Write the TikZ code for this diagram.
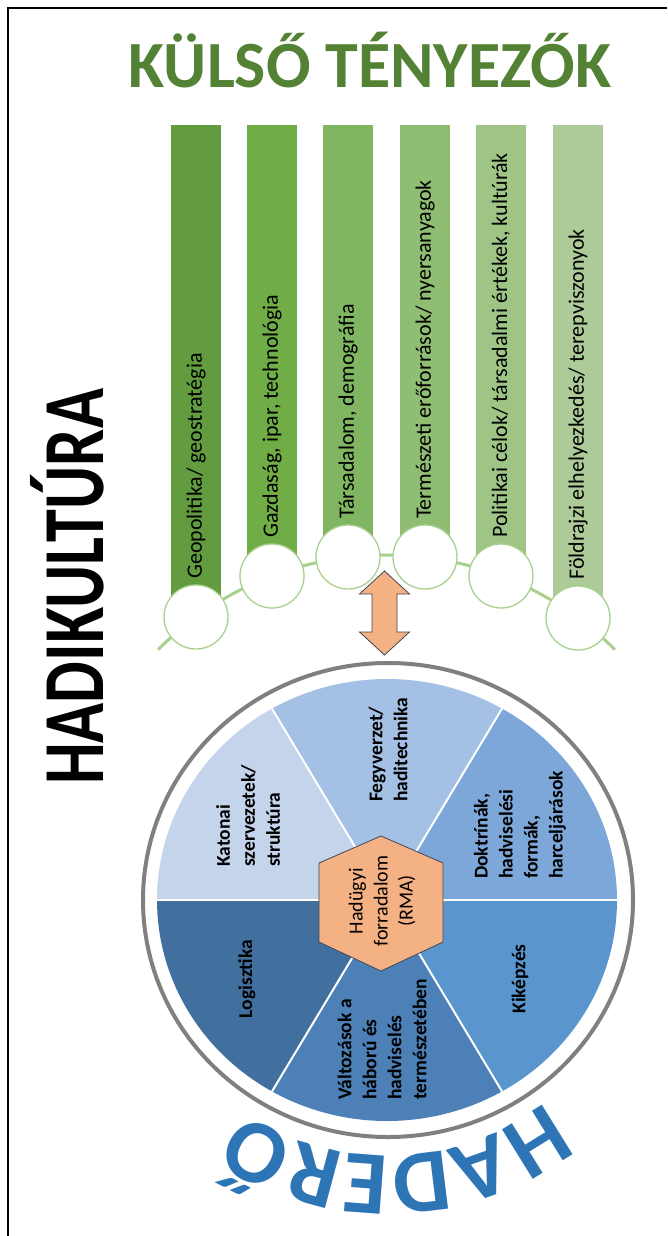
\documentclass[tikz,border=0pt]{standalone}
\usepackage{fontspec}
\setmainfont{Carlito}
\usetikzlibrary{decorations.text}
\definecolor{titlegreen}{HTML}{548235}
\definecolor{ga}{HTML}{629C3F}
\definecolor{gb}{HTML}{70AD47}
\definecolor{gc}{HTML}{80B661}
\definecolor{gd}{HTML}{8FBE73}
\definecolor{ge}{HTML}{9EC586}
\definecolor{gf}{HTML}{ACCB98}
\definecolor{chaingreen}{HTML}{A9D18E}
\definecolor{pa}{HTML}{7DA7D9}
\definecolor{pb}{HTML}{A4C0E4}
\definecolor{pc}{HTML}{C4D4EB}
\definecolor{pd}{HTML}{41709F}
\definecolor{pe}{HTML}{4C80B6}
\definecolor{pf}{HTML}{5B95CE}
\definecolor{hexfill}{HTML}{F4B183}
\definecolor{hexline}{HTML}{404858}
\definecolor{ringgray}{HTML}{808080}
\definecolor{haderoblue}{HTML}{2E75B6}
\tikzset{
  bartext/.style={rotate=90, anchor=west, inner sep=0pt, font=\fontsize{22}{26}\selectfont},
  chaincircle/.style={circle, draw=chaingreen, fill=white, line width=1.3pt, minimum size=64pt, inner sep=0pt},
  sectortext/.style={rotate=90, inner sep=0pt, align=left, font=\fontsize{19.5}{25}\selectfont\bfseries},
}
\begin{document}
\begin{tikzpicture}[x=1pt,y=1pt]
\useasboundingbox (0,0) rectangle (667,-1236);
\fill[white] (0,0) rectangle (667,-1236);
% frame
\draw[line width=2pt, black] (8,-1236) -- (8,-8) -- (667,-8);
% title
\node[font=\fontsize{66}{66}\selectfont\bfseries, text=titlegreen, anchor=base, inner sep=0pt] (title) at (370,-88) {KÜLSŐ TÉNYEZŐK};
% side title
\node[rotate=90, anchor=base west, inner sep=0pt, font=\fontsize{87}{87}\selectfont\bfseries] (hk) at (103,-785) {\scalebox{0.76}[1]{HADIKULTÚRA}};
% chain arc
\coordinate (arcC) at (386.5,-878);
\coordinate (arcL) at ([shift={(135:323)}]arcC);
\draw[chaingreen, line width=3pt] (arcL) arc[start angle=135, end angle=45, radius=323];
% bars
\fill[ga] (171,-125) rectangle (221,-617);
\fill[gb] (247,-125) rectangle (297,-576);
\fill[gc] (323,-125) rectangle (373,-557);
\fill[gd] (400,-125) rectangle (450,-557);
\fill[ge] (476,-125) rectangle (526,-576);
\fill[gf] (553,-125) rectangle (603,-618);
% circles
\node[chaincircle] (c1) at (196,-617) {};
\node[chaincircle] (c2) at (272,-576) {};
\node[chaincircle] (c3) at (348,-557) {};
\node[chaincircle] (c4) at (425,-557) {};
\node[chaincircle] (c5) at (501,-576) {};
\node[chaincircle] (c6) at (578,-618) {};
% bar texts
\node[bartext] (t1) at (196,-579) {Geopolitika/ geostratégia};
\node[bartext] (t2) at (272,-538) {Gazdaság, ipar, technológia};
\node[bartext] (t3) at (348,-519) {Társadalom, demográfia};
\node[bartext] (t4) at (425,-519) {Természeti erőforrások/ nyersanyagok};
\node[bartext] (t5) at (501,-538) {Politikai célok/ társadalmi értékek, kultúrák};
\node[bartext] (t6) at (578,-580) {Földrajzi elhelyezkedés/ terepviszonyok};
% double arrow
\filldraw[fill=hexfill, draw=hexline, line width=0.8pt]
  (384.5,-571) -- (409.5,-594) -- (397,-594) -- (397,-632) -- (409.5,-632) -- (384.5,-655)
  -- (359.5,-632) -- (372,-632) -- (372,-594) -- (359.5,-594) -- cycle;
% ring
\coordinate (pc) at (387,-900);
\draw[ringgray, line width=4pt] (388,-900) ellipse[x radius=245, y radius=237];
% pie
\fill[pa] (pc) -- ([shift={(0:230 and 221)}]pc) arc[start angle=0, end angle=60, x radius=230, y radius=221] -- cycle;
\fill[pb] (pc) -- ([shift={(60:230 and 221)}]pc) arc[start angle=60, end angle=120, x radius=230, y radius=221] -- cycle;
\fill[pc] (pc) -- ([shift={(120:230 and 221)}]pc) arc[start angle=120, end angle=180, x radius=230, y radius=221] -- cycle;
\fill[pd] (pc) -- ([shift={(180:230 and 221)}]pc) arc[start angle=180, end angle=240, x radius=230, y radius=221] -- cycle;
\fill[pe] (pc) -- ([shift={(240:230 and 221)}]pc) arc[start angle=240, end angle=300, x radius=230, y radius=221] -- cycle;
\fill[pf] (pc) -- ([shift={(300:230 and 221)}]pc) arc[start angle=300, end angle=360, x radius=230, y radius=221] -- cycle;
\foreach \a in {0,60,...,300} \draw[white, line width=2pt] (pc) -- ([shift={(\a:230 and 221)}]pc);
% hexagon
\filldraw[fill=hexfill, draw=hexline, line width=0.8pt]
  (381,-836) -- (443,-863) -- (443,-942) -- (381,-971) -- (319,-942) -- (319,-863) -- cycle;
\node[rotate=90, inner sep=0pt, align=center, font=\fontsize{20}{25}\selectfont] (rma) at (382,-901) {Hadügyi\\forradalom\\(RMA)};
% sector texts
\node[sectortext, anchor=west] (s1) at (248,-867) {Katonai\\szervezetek/\\struktúra};
\node[sectortext, anchor=west] (s2) at (388,-802) {Fegyverzet/\\haditechnika};
\node[sectortext, anchor=west] (s3) at (520,-879) {Doktrínák,\\hadviselési\\formák,\\harceljárások};
\node[sectortext, anchor=center] (s4) at (247,-979) {Logisztika};
\node[sectortext, anchor=west] (s5) at (382,-1100) {Változások a\\háború és\\hadviselés\\természetében};
\node[sectortext, anchor=center] (s6) at (520,-979) {Kiképzés};
% HADERO curved text
\coordinate (hc) at (387,-900);
\path[decorate, decoration={text along path, text align=center,
  text={|\fontsize{90}{90}\selectfont\bfseries\color{haderoblue}|HADERŐ}}]
  ([shift={(-28:256)}]hc) arc[start angle=-28, end angle=-148, radius=256];
\end{tikzpicture}
\end{document}
